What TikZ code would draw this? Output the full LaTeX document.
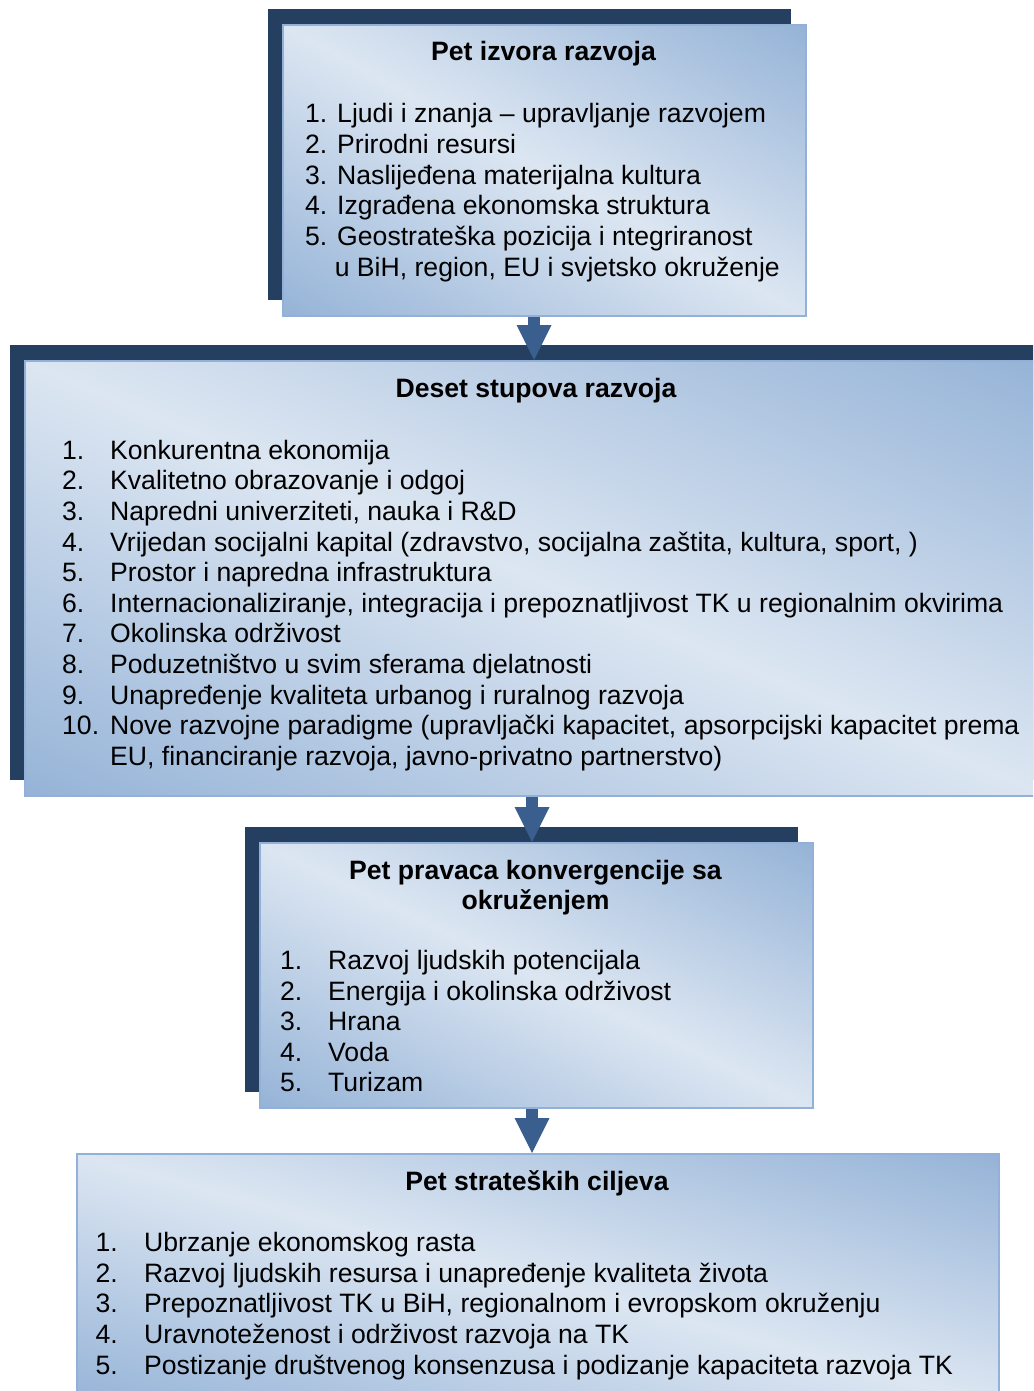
\documentclass[tikz,border=0pt]{standalone}
\usepackage{fontspec}
\setmainfont{Liberation Sans}
\usetikzlibrary{arrows.meta}

\definecolor{shadowblue}{HTML}{243F60}
\definecolor{gradlight}{HTML}{DCE6F2}
\definecolor{graddark}{HTML}{95B3D7}
\definecolor{edgeblue}{HTML}{93B1D8}
\definecolor{arrowblue}{HTML}{3A5F8F}

% dark - light - dark ramp, used along the anti-diagonal of each panel
\pgfdeclareverticalshading{panelgrad}{100bp}{color(0bp)=(graddark); color(50bp)=(gradlight); color(100bp)=(graddark)}

\begin{document}
\begin{tikzpicture}[x=1pt, y=-1pt,
  panelshadow/.style 2 args={fill=shadowblue, draw=none, inner sep=0pt, anchor=north west,
    minimum width=#1pt, minimum height=#2pt},
  panel/.style 2 args={draw=edgeblue, line width=2.4pt, inner sep=0pt, anchor=north west,
    minimum width=#1pt, minimum height=#2pt,
    path picture={
      \pgfmathsetmacro\gradw{#1/100.375}%
      \pgfmathsetmacro\gradh{#2/100.375}%
      \pgftransformshift{\pgfpointanchor{path picture bounding box}{center}}%
      \pgftransformcm{\gradw}{-\gradh}{\gradw}{\gradh}{\pgfpointorigin}%
      \pgflowlevelsynccm
      \pgfuseshading{panelgrad}%
    }},
  boxtitle/.style={font=\bfseries\fontsize{26.6}{30.6}\selectfont, anchor=base, inner sep=0pt},
  itemtext/.style={font=\fontsize{26.6}{30.6}\selectfont, anchor=base west, inner sep=0pt},
  flowarrow/.style={draw=arrowblue, line width=12pt,
    -{Triangle[width=35pt, length=35pt, line width=0pt]}}
]
\useasboundingbox (0,0) rectangle (1033,1391);
\clip (0,0) rectangle (1033,1391);

% ---------- panels with their drop shadows ----------
\node[panelshadow={523}{291}] (srcshadow) at (268,9) {};
\node[panel={523}{291}] (src) at (282,24) {};

\node[panelshadow={1024}{435}] (pillarshadow) at (9.5,345) {};
\node[panel={1024}{435}] (pillars) at (24,360) {};

\node[panelshadow={553}{265}] (convshadow) at (244.5,827) {};
\node[panel={553}{265}] (conv) at (259,842) {};

\node[panelshadow={922}{252}] (goalshadow) at (78,1160) {};
\node[panel={922}{252}] (goals) at (76,1153) {};

% ---------- flow arrows ----------
\coordinate (axa) at (534,0);
\coordinate (axb) at (532,0);
\draw[flowarrow] (src.south -| axa) -- (pillars.north -| axa);
\draw[flowarrow] (pillars.south -| axb) -- (conv.north -| axb);
\draw[flowarrow] (conv.south -| axb) -- (goals.north -| axb);

% ---------- Pet izvora razvoja ----------
\node[boxtitle] (srctitle) at (543.5,61) {Pet izvora razvoja};
\node[itemtext] (s1) at (305,123)   {1. Ljudi i znanja – upravljanje razvojem};
\node[itemtext] (s2) at (305,153.6) {2. Prirodni resursi};
\node[itemtext] (s3) at (305,184.2) {3. Naslijeđena materijalna kultura};
\node[itemtext] (s4) at (305,214.8) {4. Izgrađena ekonomska struktura};
\node[itemtext] (s5) at (305,245.4) {5. Geostrateška pozicija i ntegriranost};
\node[itemtext] (s6) at (334.6,276) {u BiH, region, EU i svjetsko okruženje};

% ---------- Deset stupova razvoja ----------
\node[boxtitle] (pillartitle) at (536,397.5) {Deset stupova razvoja};
\foreach \num/\txt [count=\k from 0] in {
  1./{Konkurentna ekonomija},
  2./{Kvalitetno obrazovanje i odgoj},
  3./{Napredni univerziteti, nauka i R\&D},
  4./{Vrijedan socijalni kapital (zdravstvo, socijalna zaštita, kultura, sport, )},
  5./{Prostor i napredna infrastruktura},
  6./{Internacionaliziranje, integracija i prepoznatljivost TK u regionalnim okvirima},
  7./{Okolinska održivost},
  8./{Poduzetništvo u svim sferama djelatnosti},
  9./{Unapređenje kvaliteta urbanog i ruralnog razvoja},
  10./{Nove razvojne paradigme (upravljački kapacitet, apsorpcijski kapacitet prema}}
{
  \node[itemtext] (pn\k) at (62,459.3+30.6*\k) {\num};
  \node[itemtext] (pt\k) at (110,459.3+30.6*\k) {\txt};
}
\node[itemtext] (pt10) at (110,765.3) {EU, financiranje razvoja, javno-privatno partnerstvo)};

% ---------- Pet pravaca konvergencije sa okruženjem ----------
\node[boxtitle] (convtitlea) at (535.5,879.3) {Pet pravaca konvergencije sa};
\node[boxtitle] (convtitleb) at (535.5,909.9) {okruženjem};
\foreach \num/\txt [count=\k from 0] in {
  1./{Razvoj ljudskih potencijala},
  2./{Energija i okolinska održivost},
  3./{Hrana},
  4./{Voda},
  5./{Turizam}}
{
  \node[itemtext] (cn\k) at (280,969.5+30.6*\k) {\num};
  \node[itemtext] (ct\k) at (328,969.5+30.6*\k) {\txt};
}

% ---------- Pet strateških ciljeva ----------
\node[boxtitle] (goaltitle) at (537,1190) {Pet strateških ciljeva};
\foreach \num/\txt [count=\k from 0] in {
  1./{Ubrzanje ekonomskog rasta},
  2./{Razvoj ljudskih resursa i unapređenje kvaliteta života},
  3./{Prepoznatljivost TK u BiH, regionalnom i evropskom okruženju},
  4./{Uravnoteženost i održivost razvoja na TK},
  5./{Postizanje društvenog konsenzusa i podizanje kapaciteta razvoja TK}}
{
  \node[itemtext] (gn\k) at (95.5,1251.7+30.6*\k) {\num};
  \node[itemtext] (gt\k) at (144,1251.7+30.6*\k) {\txt};
}
\end{tikzpicture}
\end{document}
